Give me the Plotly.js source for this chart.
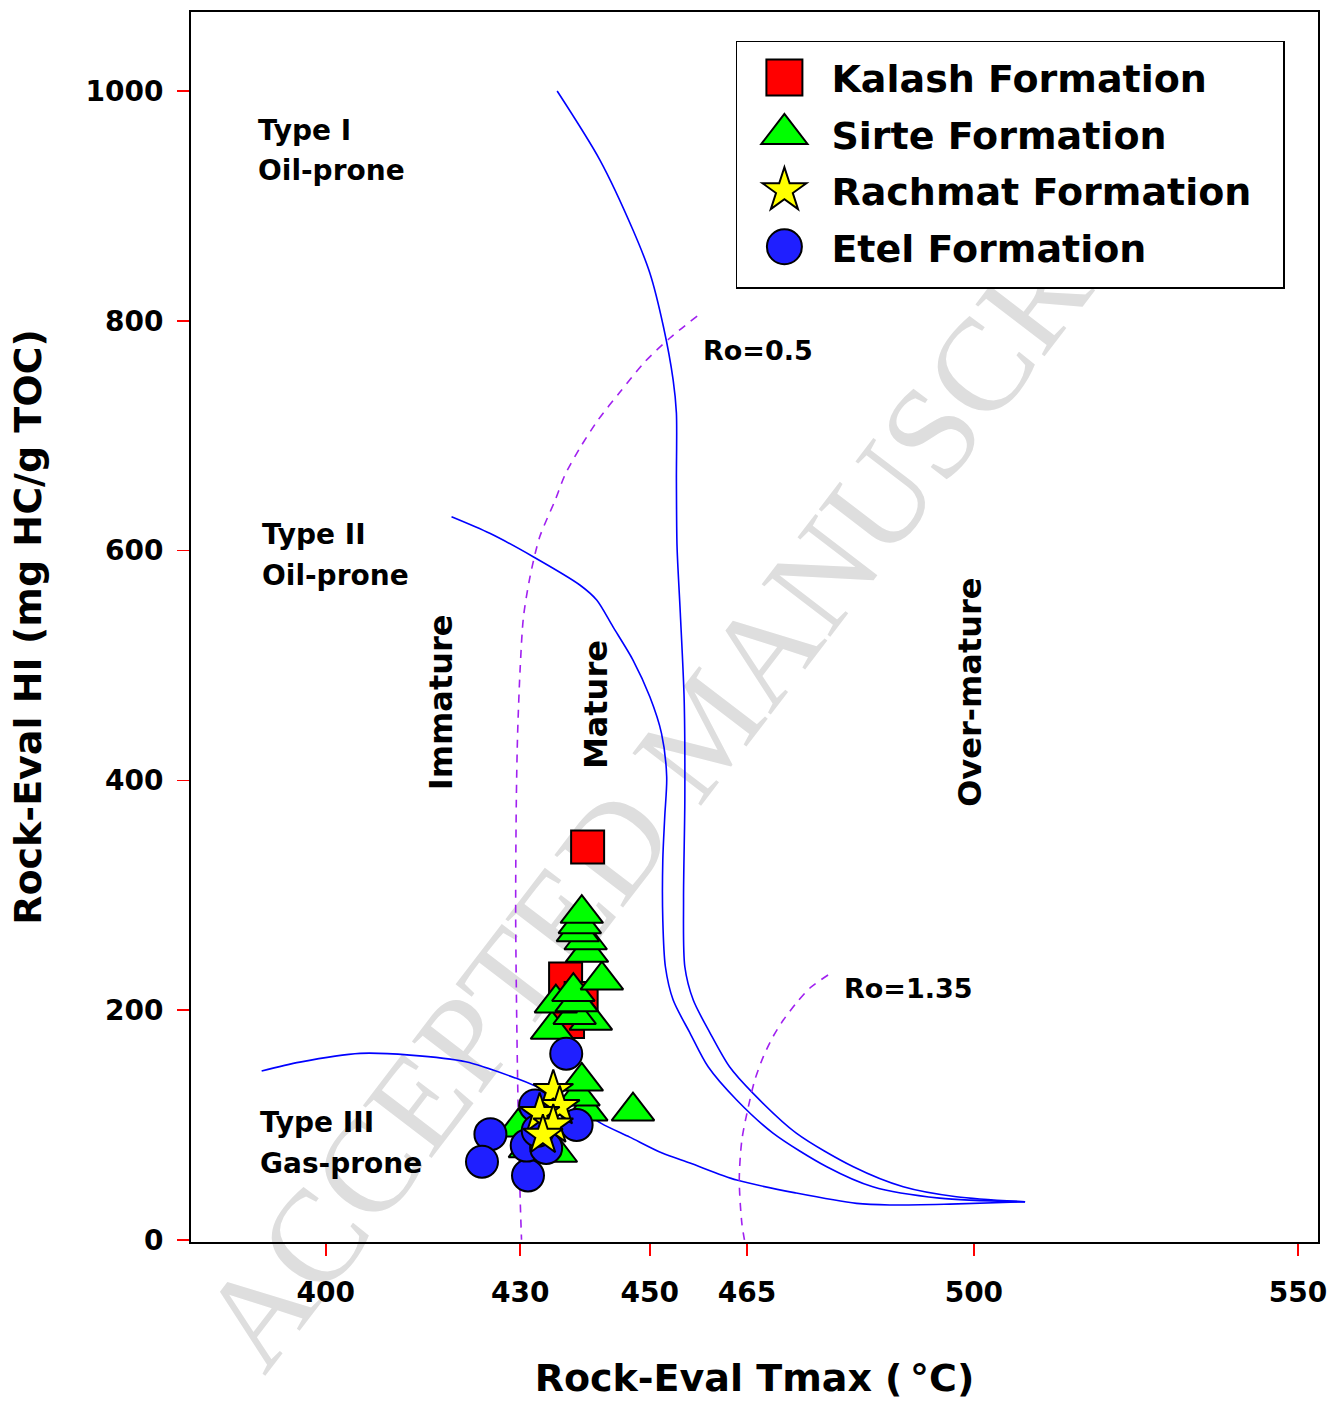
<!DOCTYPE html>
<html>
<head>
<meta charset="utf-8">
<script src="https://cdn.plot.ly/plotly-3.0.1.min.js"></script>
<style>
html,body{margin:0;padding:0;background:#ffffff;}
#wrap{position:relative;width:1333px;height:1401px;overflow:hidden;background:#ffffff;}
#wm{position:absolute;left:705px;top:728px;font-family:'Liberation Serif','DejaVu Serif',serif;font-size:132px;color:#dedede;white-space:nowrap;transform:translate(-50%,-50%) rotate(-52.6deg);z-index:0;line-height:1;}
#chart{position:absolute;left:0;top:0;width:1333px;height:1401px;z-index:1;}
</style>
</head>
<body>
<div id="wrap">
  <div id="wm">ACCEPTED MANUSCRIPT</div>
  <div id="chart"></div>
</div>
<script>
// ---- Tick values ----
const xTickVals = [400, 430, 450, 465, 500, 550];
const yTickVals = [0, 200, 400, 600, 800, 1000];

// ---- Sample data (Tmax in °C, HI in mg HC/g TOC) ----
const kalashTmax = [440.4, 437.0, 439.4, 437.3];
const kalashHI   = [342, 227, 210, 190];

const sirteTmax = [435.5, 431.5, 429.7, 440.2, 447.4, 439.0, 439.5, 434.9, 440.9, 438.4, 435.5, 438.7, 438.2, 442.6, 440.3, 440.1, 438.9, 439.2, 439.5];
const sirteHI   = [76, 80, 98, 112, 112, 125, 138, 183, 191, 196, 206, 207, 216, 226, 250, 261, 268, 275, 284];

const etelTmax = [437.1, 432.3, 438.7, 425.4, 424.1, 431.2, 431.0, 434.0, 432.7];
const etelHI   = [162, 117, 100, 92, 68, 56, 82, 80, 95];

const rachmatTmax = [435.1, 436.1, 433.0, 435.1, 433.5];
const rachmatHI   = [130, 116, 110, 100, 91];

// ---- Kerogen type boundary curves ----
const typeI_x = [435.7, 442.3, 447.4, 450.0, 452.1, 453.6, 454.1, 454.1, 454.2, 454.7, 455.3, 455.4, 455.2, 455.4, 456.7, 459.3, 462.3, 465.9, 472.6, 481.4, 489.1, 497.3, 507.9];
const typeI_y = [1000, 939.9, 879.0, 841.6, 794.8, 748.4, 719.7, 661.4, 603.0, 545.6, 469.9, 382.8, 295.8, 237.7, 208.7, 180.0, 150.6, 127.7, 92.9, 63.6, 46.2, 37.5, 33.1];

const typeII_x = [419.4, 425.3, 432.0, 439.2, 441.8, 444.3, 447.4, 450.0, 451.8, 452.6, 452.3, 452.0, 452.0, 452.4, 453.6, 456.2, 459.0, 463.4, 469.0, 477.3, 484.4, 494.7, 507.9];
const typeII_y = [629.4, 615.0, 594.6, 570.0, 556.9, 533.7, 504.7, 472.7, 440.9, 403.1, 368.3, 330.6, 278.3, 237.7, 208.7, 180.0, 150.6, 121.7, 92.9, 63.6, 46.2, 36.3, 33.1];

const typeIII_x = [390.1, 396.0, 405.3, 413.0, 421.6, 429.3, 432.6, 437.7, 442.5, 446.9, 451.9, 456.2, 463.4, 472.6, 481.9, 487.0, 496.3, 507.9];
const typeIII_y = [146.9, 154.7, 162.3, 160.8, 155.0, 140.8, 133.2, 119.0, 101.4, 89.4, 75.5, 66.8, 52.0, 40.7, 31.7, 30.3, 31.1, 33.1];

// ---- Vitrinite reflectance iso-lines ----
const ro05_x = [457.3, 453.1, 449.2, 445.4, 442.0, 439.2, 436.9, 435.4, 433.0, 431.5, 430.5, 430.0, 429.6, 429.4, 429.3, 429.6, 430.0, 430.2];
const ro05_y = [804.1, 785.0, 764.1, 738.0, 713.6, 689.2, 665.7, 644.0, 611.7, 576.9, 542.1, 498.6, 441.1, 382.8, 281.0, 139.1, 34.6, 0];

const ro135_x = [477.5, 474.7, 472.6, 470.6, 469.0, 467.5, 466.2, 465.2, 464.2, 463.8, 464.2, 464.6];
const ro135_y = [230.5, 219.2, 206.1, 191.3, 176.8, 159.3, 139.1, 115.8, 86.8, 52.0, 14.3, 0];

// ---- Styles ----
const FONT = 'DejaVu Sans, Verdana, sans-serif';
const blueLine = {color: '#0000ff', width: 1.6, shape: 'spline', smoothing: 0.8};
const purpleLine = {color: '#a020f0', width: 1.6, dash: '8px,7px', shape: 'spline', smoothing: 0.8};
const outline = {color: '#000000', width: 2};

function curve(x, y, line) {
  return {x: x, y: y, type: 'scatter', mode: 'lines', line: line, showlegend: false, hoverinfo: 'skip'};
}

const traces = [
  curve(typeI_x, typeI_y, blueLine),
  curve(typeII_x, typeII_y, blueLine),
  curve(typeIII_x, typeIII_y, blueLine),
  curve(ro05_x, ro05_y, purpleLine),
  curve(ro135_x, ro135_y, purpleLine),
  {x: kalashTmax, y: kalashHI, type: 'scatter', mode: 'markers', name: 'Kalash Formation', legendgroup: 'k', legendrank: 1,
   marker: {symbol: 'square', size: 33, color: '#ff0000', line: outline}},
  {x: sirteTmax, y: sirteHI, type: 'scatter', mode: 'markers', name: 'Sirte Formation', legendgroup: 's', legendrank: 2,
   marker: {symbol: 'triangle-up', size: 37, color: '#00ff00', line: outline}},
  {x: etelTmax, y: etelHI, type: 'scatter', mode: 'markers', name: 'Etel Formation', legendgroup: 'e', legendrank: 4,
   marker: {symbol: 'circle', size: 32, color: '#1f1fff', line: outline}},
  {x: rachmatTmax, y: rachmatHI, type: 'scatter', mode: 'markers', name: 'Rachmat Formation', legendgroup: 'r', legendrank: 3,
   marker: {symbol: 'star', size: 30, color: '#ffff00', line: outline}}
];

function label(text, x, y, size, angle, xanchor) {
  return {x: x, y: y, xref: 'x', yref: 'y', text: text, showarrow: false,
          xanchor: xanchor || 'center', yanchor: 'middle', textangle: angle || 0,
          font: {family: FONT, size: size, color: '#000000', weight: 'bold'}};
}

const layout = {
  width: 1333, height: 1401,
  margin: {l: 191, r: 14.5, t: 12, b: 159},
  paper_bgcolor: 'rgba(0,0,0,0)',
  plot_bgcolor: 'rgba(0,0,0,0)',
  font: {family: FONT, color: '#000000'},
  xaxis: {
    range: [379.2, 553.1], tickmode: 'array', tickvals: xTickVals, ticktext: xTickVals.map(String),
    showgrid: false, zeroline: false, showline: true, linecolor: '#000000', linewidth: 2, mirror: true,
    ticks: 'outside', ticklen: 12, tickwidth: 1.5, tickcolor: '#ff0000', ticklabelstandoff: 12,
    tickfont: {family: FONT, size: 28, color: '#000000', weight: 'bold'},
    title: {text: 'Rock-Eval Tmax (\u2009\u00b0C)', standoff: 57, font: {family: FONT, size: 38, color: '#000000', weight: 'bold'}}
  },
  yaxis: {
    range: [-1.9, 1068.8], tickmode: 'array', tickvals: yTickVals, ticktext: yTickVals.map(String),
    showgrid: false, zeroline: false, showline: true, linecolor: '#000000', linewidth: 2, mirror: true,
    ticks: 'outside', ticklen: 12, tickwidth: 1.5, tickcolor: '#ff0000', ticklabelstandoff: 8,
    tickfont: {family: FONT, size: 28, color: '#000000', weight: 'bold'},
    title: {text: 'Rock-Eval HI (mg HC/g TOC)', standoff: 32, font: {family: FONT, size: 38, color: '#000000', weight: 'bold'}}
  },
  legend: {
    x: 0.4835, y: 0.9733, xanchor: 'left', yanchor: 'top',
    bgcolor: '#ffffff', bordercolor: '#000000', borderwidth: 1.5,
    font: {family: FONT, size: 38, color: '#000000', weight: 'bold'},
    itemwidth: 84, traceorder: 'grouped', tracegroupgap: 4
  },
  annotations: [
    label('Type I', 389.3, 966, 28, 0, 'left'),
    label('Oil-prone', 389.3, 930.4, 28, 0, 'left'),
    label('Type II', 389.8, 614.3, 28, 0, 'left'),
    label('Oil-prone', 389.8, 578.6, 28, 0, 'left'),
    label('Type III', 389.6, 102.5, 28, 0, 'left'),
    label('Gas-prone', 389.6, 66.8, 28, 0, 'left'),
    label('Ro=0.5', 457.9, 774.5, 27, 0, 'left'),
    label('Ro=1.35', 479.7, 219.2, 27, 0, 'left'),
    label('Immature', 417.8, 468.1, 32, -90),
    label('Mature', 441.7, 465.5, 32, -90),
    label('Over-mature', 499.4, 477.0, 32, -90)
  ],
  showlegend: true
};

Plotly.newPlot('chart', traces, layout, {staticPlot: true, displayModeBar: false}).then(function (gd) {
  // enlarge legend symbols to match the plotted marker sizes (legend caps them at 16px)
  var groups = gd.querySelectorAll('.legend .traces');
  groups.forEach(function (g) {
    var d = g.__data__;
    if (!d || !d[0] || !d[0].trace) return;
    var tr = d[0].trace;
    if (!tr.marker || !tr.marker.size) return;
    var k = (tr.marker.size + 3) / 16;
    g.querySelectorAll('path.scatterpts').forEach(function (p) {
      var t = p.getAttribute('transform') || '';
      p.setAttribute('transform', t + ' scale(' + k + ')');
      p.style.vectorEffect = 'non-scaling-stroke';
    });
  });
  // widen the legend frame a little so it matches the boxed key of the original
  var bg = gd.querySelector('.legend rect.bg');
  if (bg) {
    var w = parseFloat(bg.getAttribute('width'));
    var h = parseFloat(bg.getAttribute('height'));
    var y0 = parseFloat(bg.getAttribute('y')) || 0;
    bg.setAttribute('width', w + 27);
    bg.setAttribute('y', y0 - 4);
    bg.setAttribute('height', h + 13);
  }
});
</script>
</body>
</html>
